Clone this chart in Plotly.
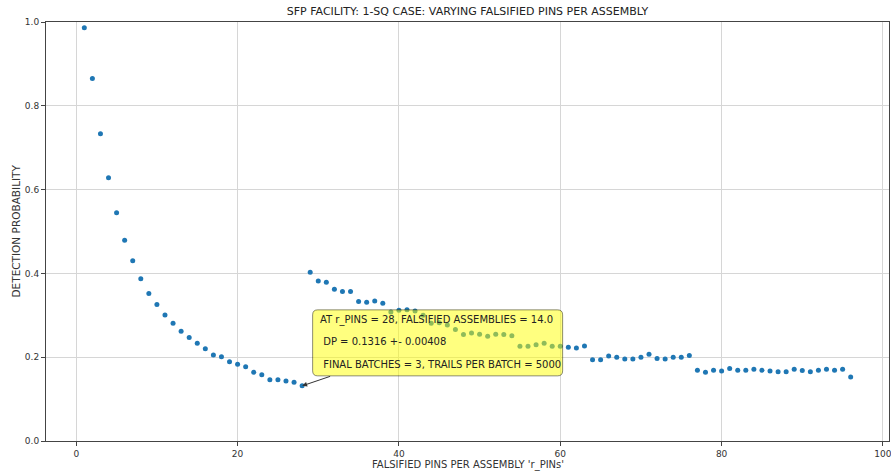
import plotly.graph_objects as go

# ---- data ----
r_pins = list(range(1, 97))
detection_prob = [
    0.986, 0.865, 0.733, 0.628, 0.545, 0.479, 0.430, 0.387, 0.352, 0.326,
    0.301, 0.281, 0.262, 0.247, 0.233, 0.220, 0.205, 0.201, 0.189, 0.183,
    0.177, 0.164, 0.158, 0.146, 0.146, 0.143, 0.140, 0.1316, 0.403, 0.382,
    0.379, 0.362, 0.357, 0.357, 0.333, 0.331, 0.334, 0.329, 0.308, 0.312,
    0.313, 0.310, 0.300, 0.281, 0.282, 0.277, 0.266, 0.254, 0.258, 0.255,
    0.250, 0.255, 0.254, 0.251, 0.226, 0.226, 0.230, 0.233, 0.226, 0.226,
    0.224, 0.222, 0.227, 0.194, 0.194, 0.203, 0.200, 0.196, 0.196, 0.200,
    0.207, 0.197, 0.196, 0.200, 0.200, 0.204, 0.169, 0.164, 0.169, 0.167,
    0.173, 0.169, 0.169, 0.171, 0.169, 0.167, 0.165, 0.165, 0.171, 0.168,
    0.165, 0.169, 0.171, 0.169, 0.171, 0.153,
]
x_ticks = [0, 20, 40, 60, 80, 100]
y_ticks = [0.0, 0.2, 0.4, 0.6, 0.8, 1.0]
y_tick_labels = ["0.0", "0.2", "0.4", "0.6", "0.8", "1.0"]

ann_pin = 28
ann_dp = 0.1316
ann_lines = [
    "AT r_PINS = 28, FALSIFIED ASSEMBLIES = 14.0",
    " DP = 0.1316 +- 0.00408",
    " FINAL BATCHES = 3, TRAILS PER BATCH = 5000",
]

FONT = "DejaVu Sans, Verdana, sans-serif"
TXT = "#333333"
SPINE = "#444444"
GRID = "#d6d6d6"

W, H = 891, 474

fig = go.Figure()
fig.add_trace(go.Scatter(
    x=r_pins, y=detection_prob, mode="markers",
    marker=dict(color="#1f77b4", size=5, line=dict(width=0)),
    showlegend=False, hoverinfo="x+y",
))

fig.update_layout(
    width=W, height=H,
    margin=dict(l=46, r=2, t=22, b=33, autoexpand=False),
    paper_bgcolor="white", plot_bgcolor="white",
    font=dict(family=FONT, size=9, color=TXT),
    title=dict(
        text="SFP FACILITY: 1-SQ CASE: VARYING FALSIFIED PINS PER ASSEMBLY",
        font=dict(family=FONT, size=11, color="#222222"),
        x=0.5, xref="paper", xanchor="center",
        y=1 - 11 / H, yref="container", yanchor="middle",
    ),
    xaxis=dict(
        range=[-3.75, 100.75], tickvals=x_ticks,
        showgrid=True, gridcolor=GRID, gridwidth=1,
        showline=True, linecolor=SPINE, linewidth=1, mirror=True,
        ticks="outside", ticklen=4, tickcolor=SPINE,
        zeroline=False, tickfont=dict(size=9, color=TXT),
        ticklabeloverflow="allow",
    ),
    yaxis=dict(
        range=[0, 1], tickvals=y_ticks, ticktext=y_tick_labels,
        showgrid=True, gridcolor=GRID, gridwidth=1,
        showline=True, linecolor=SPINE, linewidth=1, mirror=True,
        ticks="outside", ticklen=4, tickcolor=SPINE,
        zeroline=False, tickfont=dict(size=9, color=TXT),
        ticklabeloverflow="allow",
    ),
)

# axis titles
fig.add_annotation(text="FALSIFIED PINS PER ASSEMBLY 'r_PINs'", xref="paper", yref="paper",
                   x=0.5, y=0, yshift=-24, xanchor="center", yanchor="middle",
                   showarrow=False, font=dict(size=10, color=TXT))
fig.add_annotation(text="DETECTION PROBABILITY", xref="paper", yref="paper",
                   x=0, y=0.5, xshift=-31, textangle=-90, xanchor="center", yanchor="middle",
                   showarrow=False, font=dict(size=10.5, color=TXT))

# rounded yellow box (pixel offsets relative to the annotated point, y up)
L, R, B, T, rad = 10.5, 260.5, 10, 76, 5
path = (f"M {L+rad},{B} L {R-rad},{B} Q {R},{B} {R},{B+rad} L {R},{T-rad} Q {R},{T} {R-rad},{T} "
        f"L {L+rad},{T} Q {L},{T} {L},{T-rad} L {L},{B+rad} Q {L},{B} {L+rad},{B} Z")
fig.add_shape(type="path", path=path, xref="x", yref="y",
              xsizemode="pixel", ysizemode="pixel", xanchor=ann_pin, yanchor=ann_dp,
              fillcolor="rgba(255,255,0,0.5)", line=dict(color="rgba(0,0,0,0.45)", width=1),
              layer="above")

# arrow
fig.add_annotation(x=ann_pin, y=ann_dp, xref="x", yref="y", text="",
                   showarrow=True, ax=29.5, ay=-10, arrowhead=2, arrowsize=1,
                   arrowwidth=1, arrowcolor="#333333", standoff=0)

# annotation text lines
shifts = [66, 44, 21]
for line, dy in zip(ann_lines, shifts):
    txt = ("&nbsp;" + line[1:]) if line.startswith(" ") else line
    fig.add_annotation(x=ann_pin, y=ann_dp, xref="x", yref="y", text=txt,
                       showarrow=False, xanchor="left", yanchor="middle",
                       xshift=15.5, yshift=dy, font=dict(size=10, color="#222222"))

fig.write_html(
    "out.html",
    config={"displayModeBar": False},
    post_script="document.body.style.margin='0';document.body.style.overflow='hidden';",
)
